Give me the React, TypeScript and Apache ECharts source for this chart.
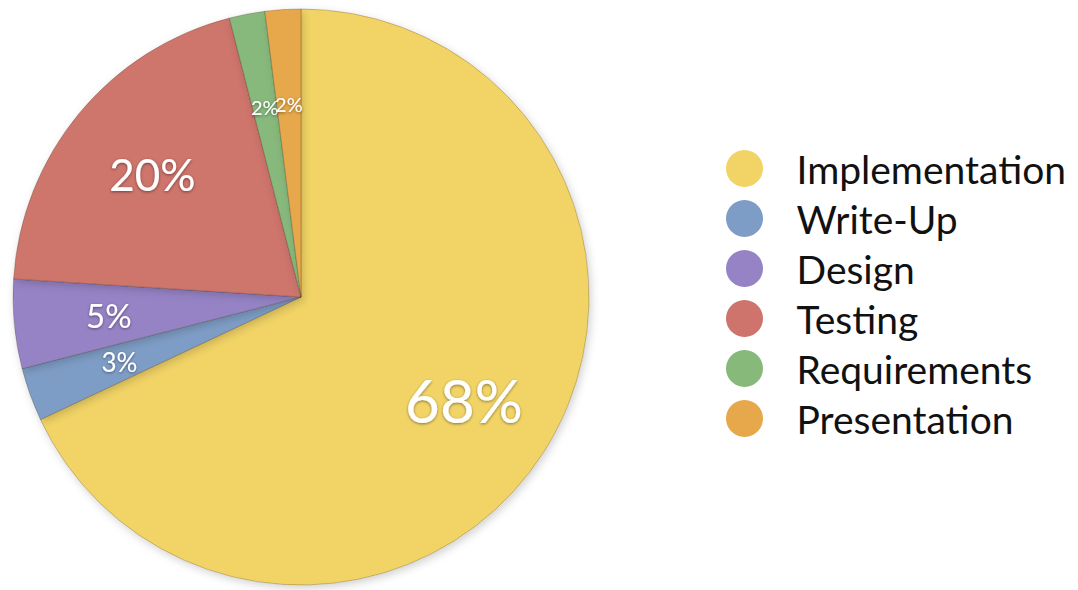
import React, { useEffect, useRef } from "react";
import * as echarts from "echarts";

const categories = ["Implementation", "Write-Up", "Design", "Testing", "Requirements", "Presentation"];
const values = [68, 3, 5, 20, 2, 2];
const colors = ["#F2D466", "#7E9DC6", "#9683C6", "#CE746C", "#87B97B", "#E6A84B"];
const labelSizes = [60, 26, 33, 44, 20, 20];

export default function App() {
  const ref = useRef<HTMLDivElement>(null);
  useEffect(() => {
    document.body.style.margin = "0";
    const chart = echarts.init(ref.current!, null, { renderer: "svg" });
    const font = "'Gill Sans', Lato, 'Open Sans', sans-serif";
    chart.setOption({
      animation: false,
      backgroundColor: "#ffffff",
      color: colors,
      legend: {
        orient: "vertical",
        left: 726,
        top: 149,
        padding: 0,
        icon: "circle",
        itemWidth: 38,
        itemHeight: 37,
        itemGap: 11,
        data: categories,
        itemStyle: { borderWidth: 0 },
        textStyle: {
          fontSize: 39,
          lineHeight: 37,
          color: "#111",
          fontFamily: font,
          padding: [0, 0, 0, 28],
        },
      },
      series: [
        {
          type: "pie",
          name: "main",
          center: [301, 297],
          radius: [0, 288],
          startAngle: 90,
          clockwise: true,
          silent: true,
          itemStyle: {
            borderColor: "rgba(60,40,20,0.25)",
            borderWidth: 1,
            shadowColor: "rgba(0,0,0,0.18)",
            shadowBlur: 8,
            shadowOffsetX: 2,
            shadowOffsetY: 3,
          },
          label: { show: false },
          labelLine: { show: false },
          data: categories.map((c, i) => ({ name: c, value: values[i] })),
        },
        {
          type: "pie",
          name: "labels",
          center: [301, 297],
          radius: [0, 380],
          startAngle: 90,
          clockwise: true,
          silent: true,
          avoidLabelOverlap: false,
          labelLayout: { hideOverlap: false },
          itemStyle: { color: "rgba(0,0,0,0)", borderWidth: 0 },
          labelLine: { show: false },
          label: {
            show: true,
            position: "inside",
            formatter: (p: any) => Math.round(p.percent) + "%",
            color: "#ffffff",
            fontFamily: font,
            textShadowColor: "rgba(0,0,0,0.45)",
            textShadowBlur: 3,
            textShadowOffsetY: 1,
          },
          data: categories.map((c, i) => ({
            name: c,
            value: values[i],
            label: { fontSize: labelSizes[i] },
          })),
        },
      ],
    });
    return () => chart.dispose();
  }, []);
  return <div ref={ref} style={{ width: 1078, height: 590 }} />;
}
